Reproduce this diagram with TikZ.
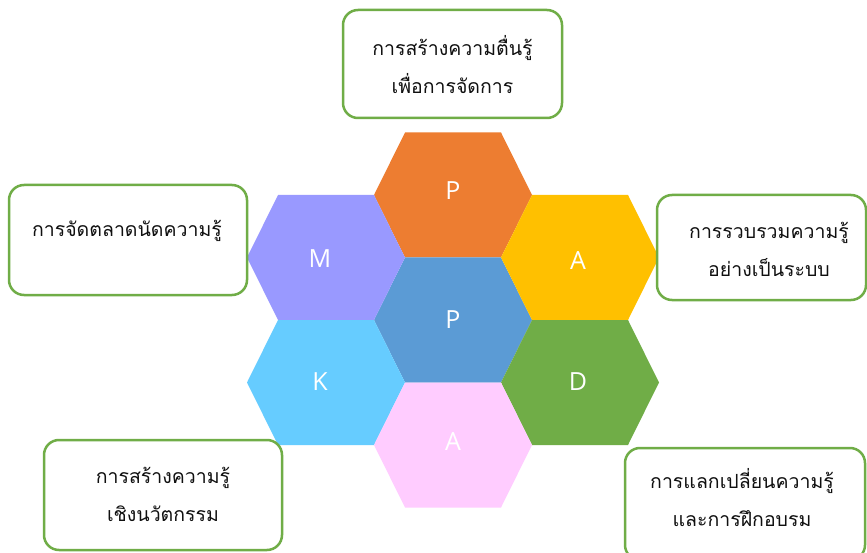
\documentclass[tikz,border=0pt]{standalone}
\usepackage{fontspec}
\setmainfont{Open Sans}
\newfontfamily\thaifont[Script=Thai]{Loma}
\definecolor{hexorange}{HTML}{ED7D31}
\definecolor{hexyellow}{HTML}{FFC000}
\definecolor{hexgreen}{HTML}{70AD47}
\definecolor{hexblue}{HTML}{5B9BD5}
\definecolor{hexpurple}{HTML}{9999FF}
\definecolor{hexsky}{HTML}{66CCFF}
\definecolor{hexpink}{HTML}{FFCCFF}
\definecolor{boxgreen}{HTML}{70AD47}
\definecolor{txt}{HTML}{101010}
\newcommand\hexcell[4]{% x, y, colour, name/letter
  \begin{scope}[shift={(#1,#2)}]
    \fill[#3] (-79,0) -- (-48,-62.5) -- (48,-62.5) -- (79,0) -- (48,62.5) -- (-48,62.5) -- cycle;
  \end{scope}}
\begin{document}
\begin{tikzpicture}[x=1pt,y=-1pt,
  letter/.style={text=white,font=\fontsize{25}{25}\selectfont,inner sep=0pt},
  infobox/.style={draw=boxgreen,line width=2.5pt,rounded corners=15pt,fill=white,inner sep=0pt},
  info/.style={font=\thaifont\fontsize{19.5}{38}\selectfont,align=center,text=txt,inner sep=0pt}]
\useasboundingbox (0,0) rectangle (867,553);
\clip (0,0) rectangle (867,553);
\fill[white] (0,0) rectangle (867,553);
% hexagons
\hexcell{453}{195}{hexorange}{}
\hexcell{453}{320}{hexblue}{}
\hexcell{326}{257.5}{hexpurple}{}
\hexcell{580}{257.5}{hexyellow}{}
\hexcell{326}{382.5}{hexsky}{}
\hexcell{580}{382.5}{hexgreen}{}
\hexcell{453}{445}{hexpink}{}
\node[letter] (pt) at (453,191) {P};
\node[letter] (pc) at (453,320) {P};
\node[letter] (m) at (320,259) {M};
\node[letter] (ar) at (578,261) {A};
\node[letter] (k) at (320,382) {K};
\node[letter] (d) at (578,382) {D};
\node[letter] (ab) at (453,442) {A};
% boxes
\node[infobox,minimum width=219pt,minimum height=108pt] (btop) at (452.5,64) {};
\node[info] (ttop) at (452.5,65) {การสร้างความตื่นรู้\\เพื่อการจัดการ};
\node[infobox,minimum width=238pt,minimum height=110pt] (bleft) at (128,240) {};
\node[info] (tleft) at (127,231) {การจัดตลาดนัดความรู้};
\node[infobox,minimum width=209pt,minimum height=105pt] (bright) at (761.5,247.5) {};
\node[info] (tright) at (769,249) {การรวบรวมความรู้\\อย่างเป็นระบบ};
\node[infobox,minimum width=238pt,minimum height=110pt] (bbl) at (163,495) {};
\node[info] (tbl) at (163,494) {การสร้างความรู้\\เชิงนวัตกรรม};
\node[infobox,minimum width=240pt,minimum height=112pt] (bbr) at (745,504) {};
\node[info] (tbr) at (742,498) {การแลกเปลี่ยนความรู้\\และการฝึกอบรม};
\end{tikzpicture}
\end{document}
